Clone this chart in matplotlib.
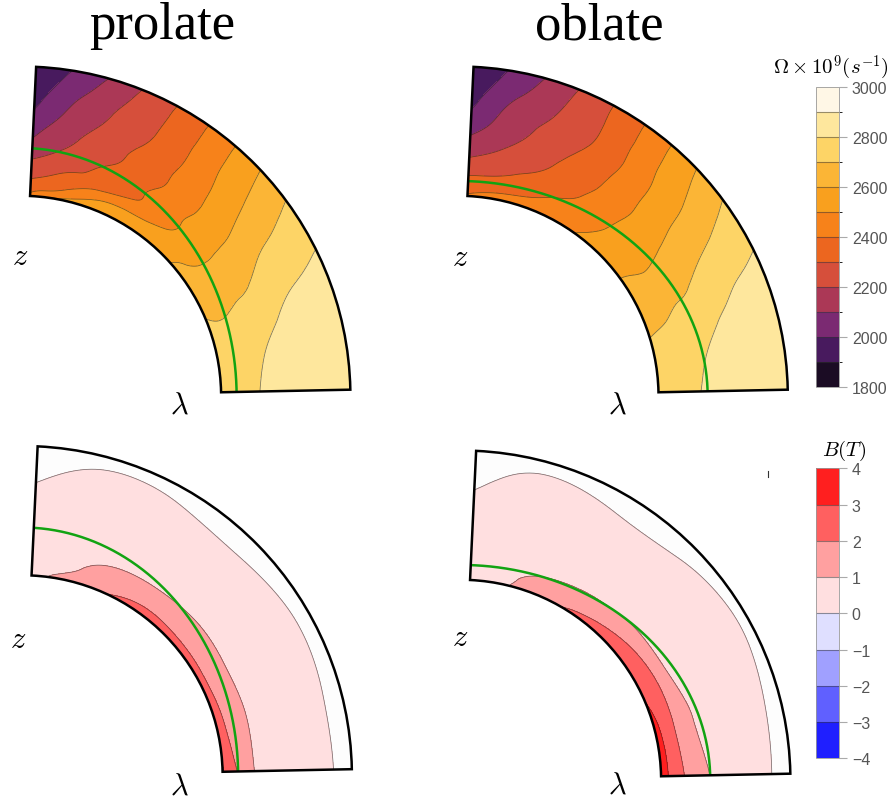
import numpy as np
import matplotlib
matplotlib.use("Agg")
import matplotlib.pyplot as plt
import matplotlib.tri as mtri
from matplotlib.colors import ListedColormap, BoundaryNorm
from matplotlib.cm import ScalarMappable
from matplotlib.patches import Wedge

plt.rcParams['mathtext.fontset'] = 'cm'

titles = ["prolate", "oblate"]

# meridional slice: latitude (deg) and radius (r/R)
lat_min, lat_max = 1.15, 87.3
r_in, r_out = 0.608, 1.0

lat_omega = [1.15, 10, 20, 30, 40, 50, 60, 70, 80, 87.3]
r_omega = [0.608, 0.64, 0.68, 0.72, 0.76, 0.80, 0.85, 0.90, 0.95, 1.0]

# Omega x 1e9 (s^-1), one row per radius
omega_prolate = [
    [2755, 2745, 2713, 2663, 2610, 2560, 2535, 2520, 2508, 2420],
    [2760, 2746, 2705, 2646, 2593, 2545, 2520, 2486, 2376, 2350],
    [2775, 2759, 2712, 2645, 2568, 2483, 2414, 2359, 2307, 2262],
    [2795, 2777, 2728, 2652, 2567, 2475, 2389, 2317, 2248, 2200],
    [2830, 2806, 2741, 2663, 2568, 2464, 2365, 2283, 2201, 2130],
    [2845, 2828, 2768, 2682, 2574, 2461, 2356, 2265, 2169, 2085],
    [2858, 2843, 2799, 2712, 2593, 2466, 2342, 2238, 2130, 2025],
    [2868, 2855, 2816, 2731, 2612, 2477, 2333, 2219, 2097, 1972],
    [2875, 2863, 2827, 2751, 2631, 2484, 2329, 2199, 2052, 1940],
    [2882, 2871, 2838, 2771, 2651, 2488, 2324, 2174, 2012, 1930],
]
omega_oblate = [
    [2748, 2732, 2683, 2632, 2578, 2522, 2480, 2458, 2435, 2410],
    [2757, 2740, 2690, 2630, 2569, 2506, 2454, 2403, 2373, 2359],
    [2770, 2753, 2703, 2628, 2558, 2489, 2412, 2353, 2296, 2282],
    [2790, 2773, 2723, 2641, 2560, 2477, 2381, 2305, 2243, 2210],
    [2815, 2795, 2732, 2658, 2565, 2465, 2362, 2280, 2199, 2140],
    [2840, 2821, 2758, 2676, 2577, 2464, 2350, 2257, 2160, 2090],
    [2855, 2839, 2788, 2700, 2590, 2464, 2331, 2230, 2130, 2025],
    [2866, 2852, 2812, 2724, 2606, 2476, 2324, 2208, 2100, 1972],
    [2876, 2864, 2826, 2748, 2630, 2486, 2326, 2194, 2052, 1942],
    [2885, 2873, 2838, 2770, 2655, 2493, 2327, 2176, 2015, 1933],
]

lat_b = [1.15, 15, 30, 45, 60, 75, 87.3]
r_b = [0.608, 0.63, 0.66, 0.70, 0.75, 0.85, 0.94, 1.0]

# B (T), one row per latitude
b_prolate = [
    [3.10, 2.45, 1.85, 1.06, 0.80, 0.42, 0.02, -0.30],
    [2.85, 2.08, 1.60, 1.04, 0.80, 0.42, 0.02, -0.30],
    [2.60, 1.96, 1.55, 1.01, 0.80, 0.45, 0.06, -0.25],
    [2.40, 2.02, 1.60, 1.04, 0.78, 0.40, -0.02, -0.30],
    [2.20, 1.90, 1.50, 0.97, 0.78, 0.42, 0.05, -0.25],
    [1.45, 1.12, 0.93, 0.83, 0.70, 0.40, 0.08, -0.20],
    [0.75, 0.72, 0.68, 0.62, 0.52, 0.17, -0.20, -0.40],
]
b_oblate = [
    [3.50, 3.00, 2.33, 1.68, 1.05, 0.49, 0.02, -0.30],
    [3.30, 2.84, 2.18, 1.38, 0.85, 0.47, 0.06, -0.25],
    [2.70, 2.45, 2.08, 1.10, 0.80, 0.47, 0.12, -0.15],
    [2.35, 2.15, 1.67, 0.98, 0.78, 0.38, 0.02, -0.30],
    [2.00, 1.70, 1.23, 0.85, 0.71, 0.33, -0.01, -0.30],
    [1.05, 0.97, 0.88, 0.77, 0.62, 0.33, 0.07, -0.20],
    [0.70, 0.67, 0.62, 0.55, 0.47, 0.12, -0.20, -0.40],
]

# green reference surface: (equatorial, polar) semi-axes
ellipse_prolate = (0.655, 0.753)
ellipse_oblate = (0.757, 0.653)

omega_levels = np.arange(1800, 3001, 100)
omega_ticks = [1800, 2000, 2200, 2400, 2600, 2800, 3000]
omega_colors = ['#1b0c24', '#481a5e', '#7b2a72', '#ab3856', '#d64f3b', '#ec661f',
                '#f7821a', '#f9a01e', '#fbb536', '#fdd466', '#fee79d', '#fff7e6']
b_levels = np.arange(-4, 5, 1)
b_ticks = list(range(-4, 5))
b_colors = ['#1f1fff', '#6060ff', '#a0a0ff', '#dfdfff',
            '#ffdfe0', '#ffa0a0', '#ff6060', '#ff1f1f']

W, H = 896, 803
S = 329.8  # pixels per unit radius

fig = plt.figure(figsize=(W / 100, H / 100), dpi=100)


def px_axes(x0, y0, x1, y1):
    return fig.add_axes([x0 / W, 1 - y1 / H, (x1 - x0) / W, (y1 - y0) / H])


def field_tri(lats, rads, z):
    # triangulate in (lat, r), refine there, then map to (x, y)
    LAT, RR = np.meshgrid(np.array(lats) / 90.0, (np.array(rads) - r_in) / (r_out - r_in))
    tri = mtri.Triangulation(LAT.ravel(), RR.ravel())
    tri_r, z_r = mtri.UniformTriRefiner(tri).refine_field(np.asarray(z, float).ravel(),
                                                          subdiv=4)
    lat = np.radians(tri_r.x * 90.0)
    r = r_in + tri_r.y * (r_out - r_in)
    return mtri.Triangulation(r * np.cos(lat), r * np.sin(lat), tri_r.triangles), z_r


def panel(rect, origin, lats, rads, z, levels, colors, ellipse, bg=None):
    x0, y0, x1, y1 = rect
    ox, oy = origin
    ax = px_axes(x0, y0, x1, y1)
    ax.set_xlim((x0 - ox) / S, (x1 - ox) / S)
    ax.set_ylim((oy - y1) / S, (oy - y0) / S)
    ax.axis('off')
    if bg is not None:
        ax.add_patch(Wedge((0, 0), r_out, lat_min, lat_max, width=r_out - r_in,
                           facecolor=bg, edgecolor='none', zorder=0))
    t, zz = field_tri(lats, rads, z)
    ax.tricontourf(t, zz, levels=levels, colors=colors, zorder=1)
    ax.tricontour(t, zz, levels=levels[:-1], colors='#222222', linewidths=0.55,
                  alpha=0.6, zorder=2)
    outline = Wedge((0, 0), r_out, lat_min, lat_max, width=r_out - r_in,
                    fill=False, edgecolor='black', lw=1.8, zorder=5)
    ax.add_patch(outline)
    th = np.radians(np.linspace(0, 90, 300))
    ln, = ax.plot(ellipse[0] * np.cos(th), ellipse[1] * np.sin(th),
                  color='#12a312', lw=1.8, zorder=4)
    ln.set_clip_path(outline)
    return ax


panel((0, 55, 400, 420), (20.6, 397.3), lat_omega, r_omega, omega_prolate,
      omega_levels, omega_colors, ellipse_prolate)
panel((440, 55, 805, 420), (458.0, 397.3), lat_omega, r_omega, omega_oblate,
      omega_levels, omega_colors, ellipse_oblate)
panel((0, 435, 400, 800), (22.1, 776.8), lat_b, r_b, np.array(b_prolate).T,
      b_levels[4:], b_colors[4:], ellipse_prolate, bg='#fdfdfd')
panel((440, 435, 805, 800), (460.6, 781.3), lat_b, r_b, np.array(b_oblate).T,
      b_levels[4:], b_colors[4:], ellipse_oblate, bg='#fdfdfd')

# titles and axis labels
for x, s in zip([161.7, 599.0], titles):
    fig.text(x / W, 1 - 39.5 / H, s, fontsize=38, family='Liberation Serif',
             ha='center', va='baseline')
for (zx, zy), (lx, ly) in [((20, 257), (179.5, 405)), ((460, 258), (617.5, 405)),
                           ((18.5, 640), (179.5, 786)), ((460, 638), (617.5, 785))]:
    fig.text(zx / W, 1 - zy / H, r'$z$', fontsize=22, ha='center', va='center')
    fig.text(lx / W, 1 - ly / H, r'$\lambda$', fontsize=22, ha='center', va='center')


def colorbar(y0, y1, levels, colors, ticks, label, label_xy):
    cax = px_axes(815.7, y0, 839.3, y1)
    sm = ScalarMappable(norm=BoundaryNorm(levels, len(colors)), cmap=ListedColormap(colors))
    cb = fig.colorbar(sm, cax=cax, drawedges=True, ticks=ticks)
    cb.dividers.set_color('#333333')
    cb.dividers.set_alpha(0.5)
    cb.dividers.set_linewidth(0.8)
    cb.outline.set_edgecolor('#999999')
    cb.outline.set_linewidth(0.6)
    cax.tick_params(axis='y', length=6, width=0.8, color='#aaaaaa', labelcolor='#555555',
                    labelsize=11.5, pad=3)
    for tl in cax.get_yticklabels():
        tl.set_family('Liberation Sans')
    fig.text(label_xy[0] / W, 1 - label_xy[1] / H, label, fontsize=15,
             ha='center', va='center')


colorbar(87.7, 387.7, omega_levels, omega_colors, omega_ticks,
         r'$\Omega\times10^9(s^{-1})$', (831, 68))
colorbar(469.3, 759.3, b_levels, b_colors, b_ticks, r'$B(T)$', (844, 451))

fig.add_artist(plt.Line2D([768 / W, 768 / W], [1 - 472 / H, 1 - 478 / H],
                          color='#333333', lw=0.8))

fig.savefig("out.png", dpi=100)
